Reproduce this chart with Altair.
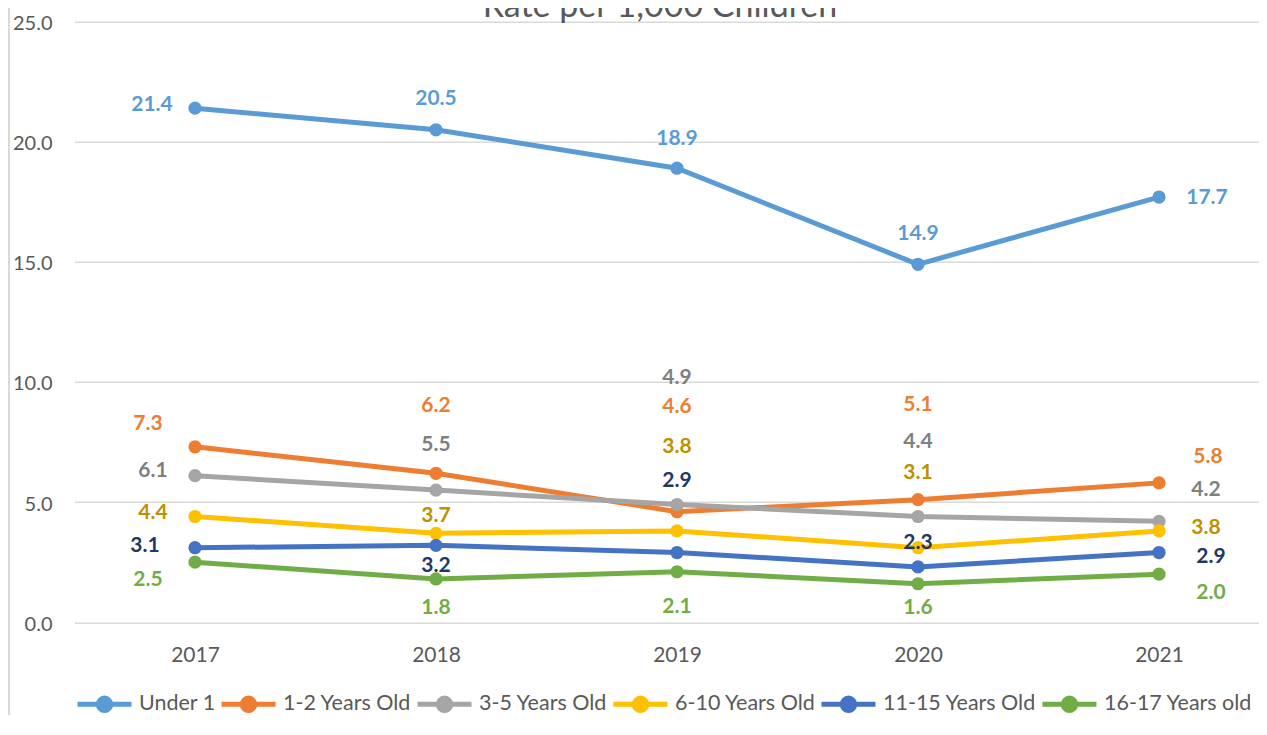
import altair as alt
import pandas as pd

# ---------------- data ----------------
title_text = "Rate per 1,000 Children"
years = ["2017", "2018", "2019", "2020", "2021"]
series = ["Under 1", "1-2 Years Old", "3-5 Years Old", "6-10 Years Old",
          "11-15 Years Old", "16-17 Years old"]

under_1 = [21.4, 20.5, 18.9, 14.9, 17.7]
age_1_2 = [7.3, 6.2, 4.6, 5.1, 5.8]
age_3_5 = [6.1, 5.5, 4.9, 4.4, 4.2]
age_6_10 = [4.4, 3.7, 3.8, 3.1, 3.8]
age_11_15 = [3.1, 3.2, 2.9, 2.3, 2.9]
age_16_17 = [2.5, 1.8, 2.1, 1.6, 2.0]
values = [under_1, age_1_2, age_3_5, age_6_10, age_11_15, age_16_17]

y_ticks = [0, 5, 10, 15, 20, 25]

# ---------------- styles ----------------
line_colors = ["#5B9BD5", "#ED7D31", "#A5A5A5", "#FFC000", "#4472C4", "#70AD47"]
label_colors = ["#5B9BD5", "#ED7D31", "#7F7F7F", "#BF9000", "#203864", "#70AD47"]

# data-label placement offsets in pixels (manual label positions of the original)
label_dx = [
    [-43, 0, 0, 0, 48],
    [-47, 0, 0, 0, 49],
    [-42, 0, 0, 0, 47],
    [-42, 0, 0, 0, 47],
    [-50, 0, 0, 0, 52],
    [-47, 0, 0, 0, 52],
]
label_dy = [
    [-4, -32, -30.5, -31.5, 0],
    [-24, -68, -106, -95.5, -27],
    [-6, -46, -127, -76, -32],
    [-5, -18, -85, -75.5, -3.5],
    [-2.5, 20, -73, -25, 3],
    [17, 28, 34, 23.5, 18],
]

rows = []
for si, s in enumerate(series):
    for yi, yr in enumerate(years):
        rows.append({
            "series": s,
            "year": yr,
            "value": values[si][yi],
            "label": f"{values[si][yi]:.1f}",
            "lcolor": label_colors[si],
            "dx": label_dx[si][yi],
            "dy": label_dy[si][yi],
        })
df = pd.DataFrame(rows)

W, H = 1184.5, 600.5
Y_MAX = 25
PX_PER_UNIT = H / Y_MAX
PAD_L, PAD_T, PAD_B = 66.5, 13.7, 93.0
FONT = "Lato"
GREY_TXT = "#595959"

legend_path = ("M-1,0L1,0M0.23,0A0.23,0.23,0,1,1,-0.23,0"
               "A0.23,0.23,0,1,1,0.23,0Z")

x_enc = alt.X(
    "year:O", sort=years,
    scale=alt.Scale(type="point", padding=0.4575, align=0.5465),
    axis=alt.Axis(title=None, labelAngle=0, domain=False, ticks=False, tickSize=0,
                  labelPadding=22.5, labelFont=FONT, labelFontSize=21,
                  labelColor=GREY_TXT, grid=False),
)
y_scale = alt.Scale(domain=[0, Y_MAX], nice=False, zero=True)
y_axis = alt.Axis(title=None, values=y_ticks, format=".1f", domain=False, ticks=False,
                  tickSize=0, labelPadding=22.5, labelFont=FONT, labelFontSize=20,
                  labelColor=GREY_TXT, labelOffset=2, gridColor="#D9D9D9",
                  gridWidth=1.5)
y_enc = alt.Y("value:Q", scale=y_scale, axis=y_axis, title=None)
leg = alt.Legend(
    title=None, orient="none", legendX=0.5, legendY=653, direction="horizontal",
    columns=6, symbolType=legend_path, symbolSize=2916, symbolStrokeWidth=5,
    symbolOpacity=1,
    labelFont=FONT, labelFontSize=21.5, labelColor=GREY_TXT, labelOffset=5,
    columnPadding=-5,
)
color_scale = alt.Scale(domain=series, range=line_colors)

base = alt.Chart(df)

lines = base.mark_line(strokeWidth=5).encode(
    x=x_enc, y=y_enc,
    stroke=alt.Stroke("series:N", sort=series, scale=color_scale, legend=leg),
    order=alt.Order("year:O"),
)
points = base.mark_point(filled=True, size=175, opacity=1, strokeWidth=0).encode(
    x=x_enc, y=y_enc,
    fill=alt.Fill("series:N", sort=series, scale=color_scale, legend=leg),
    stroke=alt.Stroke("series:N", sort=series, scale=color_scale, legend=leg),
)
labels = base.transform_calculate(
    ly=f"datum.value - datum.dy / {PX_PER_UNIT}"
).mark_text(font=FONT, fontWeight="bold", fontSize=21, align="center",
            baseline="middle", dy=1).encode(
    x=x_enc,
    y=alt.Y("ly:Q", scale=y_scale, axis=y_axis, title=None),
    xOffset=alt.XOffset("dx:Q", scale=None),
    text="label:N",
    color=alt.Color("lcolor:N", scale=None, legend=None),
)

title = alt.Chart(pd.DataFrame({"t": [title_text]})).mark_text(
    font=FONT, fontSize=34, color=GREY_TXT, align="center", baseline="alphabetic",
).encode(text="t:N", x=alt.value(585.5), y=alt.value(-4.7))

border = alt.Chart(pd.DataFrame({"t": [0]})).mark_rule(
    color="#D9D9D9", strokeWidth=2
).encode(x=alt.value(-65.5), y=alt.value(-PAD_T), y2=alt.value(H + PAD_B))

chart = alt.layer(border, lines, points, labels, title).properties(
    width=W, height=H,
    background="white",
    autosize=alt.AutoSizeParams(type="none"),
    padding={"left": PAD_L, "top": PAD_T, "right": 0, "bottom": PAD_B},
).configure_view(stroke=None)

chart.save("out.html", embed_options={"renderer": "svg", "actions": False})
